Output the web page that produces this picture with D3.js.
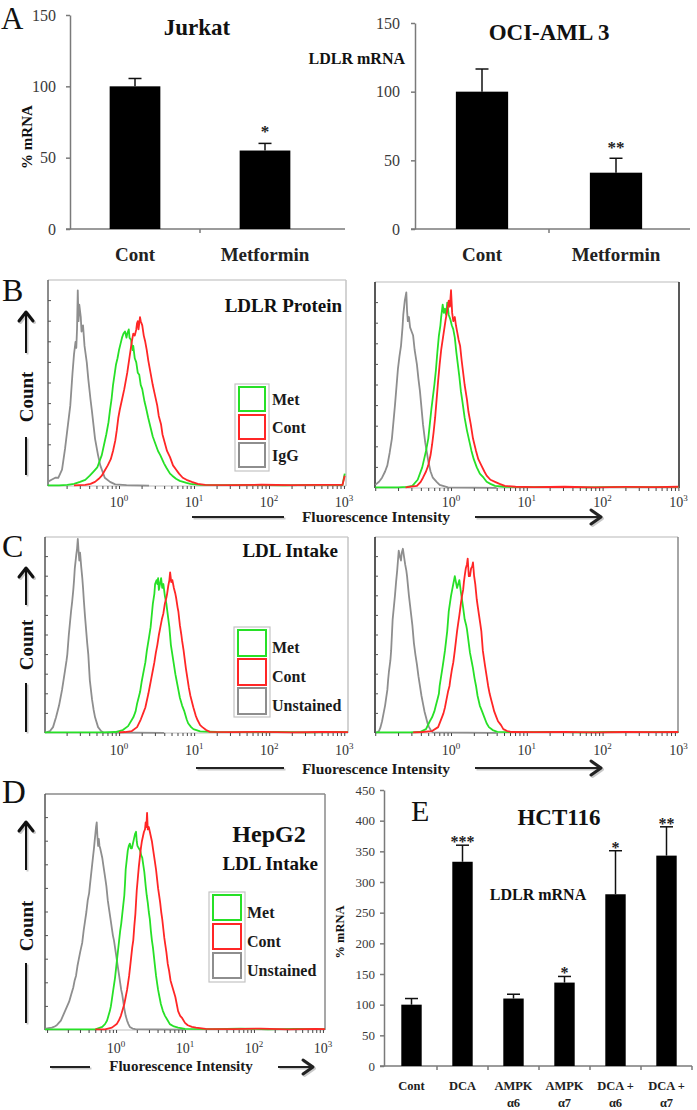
<!DOCTYPE html>
<html><head><meta charset="utf-8">
<script src="https://cdn.jsdelivr.net/npm/d3@7"></script>
<style>body{margin:0;background:#fff}svg{display:block;background:#fff}</style>
</head><body>
<svg id="c" width="697" height="1110"></svg>
<script>
// ---------------- DATA ----------------
const aCategories = ["Cont", "Metformin"];
const jurkatValues = [100, 55];
const jurkatErrTop = [105.5, 60];
const jurkatStars = ["", "*"];
const ociValues = [100, 41];
const ociErrTop = [116.5, 51.5];
const ociStars = ["", "**"];
const aTicks = [0, 50, 100, 150];

const eCategories = [["Cont"], ["DCA"], ["AMPK", "α6"], ["AMPK", "α7"], ["DCA +", "α6"], ["DCA +", "α7"]];
const eValues = [100, 333, 110, 136, 280, 343];
const eErrTop = [110, 360, 117, 146, 351, 390];
const eStars = ["", "***", "", "*", "*", "**"];
const eTicks = [0, 50, 100, 150, 200, 250, 300, 350, 400, 450];

const decadeTicks = [0, 1, 2, 3];           // log10 of 10^0 .. 10^3
const legendB = ["Met", "Cont", "IgG"];
const legendCD = ["Met", "Cont", "Unstained"];

// flow histograms: [log10 fluorescence, count as % of panel height]
const bLeftIgG = [[-0.95,2],[-0.9,3],[-0.85,4],[-0.81,4],[-0.76,8],[-0.72,18],[-0.68,30],[-0.65,39],[-0.62,55],[-0.6,64],[-0.58,70],[-0.57,67],[-0.56,76],[-0.55,95],[-0.54,80],[-0.53,88],[-0.51,82],[-0.5,75],[-0.48,78],[-0.46,68],[-0.43,60],[-0.41,52],[-0.38,42],[-0.36,36],[-0.32,23],[-0.28,15],[-0.25,10],[-0.19,4],[-0.12,2],[-0.05,0.8],[0.1,0.4],[0.4,0.2]];
const bLeftMet = [[-0.95,0.3],[-0.8,0.3],[-0.69,0.5],[-0.6,1],[-0.52,2],[-0.45,3],[-0.39,5],[-0.34,7],[-0.29,9],[-0.26,12],[-0.23,15],[-0.2,20],[-0.17,25],[-0.14,31],[-0.12,37],[-0.1,42],[-0.08,49],[-0.06,54],[-0.04,59],[-0.02,62],[0,66],[0.02,69],[0.04,72],[0.06,74],[0.08,75],[0.1,72],[0.11,74],[0.13,76],[0.14,72],[0.16,71],[0.18,66],[0.19,68],[0.21,62],[0.23,60],[0.25,55],[0.27,54],[0.29,49],[0.31,47],[0.34,41],[0.36,38],[0.39,33],[0.41,30],[0.45,24],[0.48,21],[0.52,17],[0.55,15],[0.6,11],[0.63,9],[0.68,6],[0.71,5],[0.76,3.5],[0.81,2.5],[0.9,1.5],[0.95,1],[1.08,0.5],[1.4,0.4],[1.8,0.5],[2.2,0.3],[2.6,0.5],[2.98,0.4],[3.01,6]];
const bLeftCont = [[-0.6,0.3],[-0.45,0.5],[-0.38,1],[-0.32,2],[-0.27,3.5],[-0.23,5],[-0.19,7.5],[-0.15,10],[-0.11,13],[-0.08,17],[-0.05,22],[-0.03,27],[-0.01,33],[0.01,37],[0.04,42],[0.07,47],[0.09,51],[0.11,55],[0.13,60],[0.15,65],[0.17,70],[0.19,74],[0.21,73],[0.23,76],[0.24,79],[0.25,80],[0.26,76],[0.28,82],[0.29,80],[0.31,78],[0.33,73],[0.35,70],[0.37,66],[0.39,61],[0.41,57],[0.43,53],[0.45,49],[0.48,44],[0.51,39],[0.53,34],[0.56,30],[0.58,25],[0.61,21],[0.64,17],[0.68,14],[0.72,10],[0.76,8],[0.8,6],[0.85,4],[0.9,3],[0.97,2],[1.05,1],[1.15,0.5],[1.5,0.4],[1.9,0.6],[2.3,0.4],[2.7,0.5],[2.98,0.5],[3.01,5]];

const bRightIgG = [[-1.0,1.5],[-0.95,3],[-0.91,5],[-0.87,8],[-0.84,11],[-0.81,17],[-0.78,24],[-0.76,32],[-0.74,40],[-0.72,49],[-0.70,58],[-0.68,64],[-0.66,69],[-0.64,78],[-0.63,84],[-0.61,91],[-0.59,95],[-0.58,86],[-0.57,81],[-0.555,83],[-0.54,78],[-0.52,76],[-0.5,74],[-0.48,67],[-0.45,60],[-0.43,53],[-0.41,47],[-0.39,39],[-0.37,31],[-0.34,22],[-0.3,13],[-0.27,8],[-0.24,5],[-0.19,3],[-0.15,1.5],[-0.04,0.3],[0.3,0.2],[0.6,0.1]];
const bRightMet = [[-1.0,0.3],[-0.7,0.3],[-0.58,0.5],[-0.51,1],[-0.44,4],[-0.38,10],[-0.33,18],[-0.3,24],[-0.28,31],[-0.26,38],[-0.24,44],[-0.22,50],[-0.2,57],[-0.18,66],[-0.16,74],[-0.14,79],[-0.13,83],[-0.12,86],[-0.11,89],[-0.095,85],[-0.08,87],[-0.065,84],[-0.05,90],[-0.03,84],[-0.01,82],[0.01,79],[0.03,77],[0.05,73],[0.07,66],[0.09,60],[0.11,54],[0.13,47],[0.15,42],[0.18,34],[0.21,28],[0.24,23],[0.27,18],[0.30,14],[0.34,10],[0.38,7],[0.43,5],[0.47,3],[0.52,2],[0.58,1],[0.7,0.6],[1.0,0.4],[1.4,0.5],[1.8,0.3],[2.2,0.5],[2.6,0.4],[3.0,0.5]];
const bRightCont = [[-0.6,0.3],[-0.45,1],[-0.4,3],[-0.37,5],[-0.33,8],[-0.3,11],[-0.27,16],[-0.25,21],[-0.23,27],[-0.21,34],[-0.19,43],[-0.17,52],[-0.15,60],[-0.13,67],[-0.11,72],[-0.09,77],[-0.07,82],[-0.05,86],[-0.03,91],[-0.015,88],[0.0,96],[0.015,85],[0.03,81],[0.05,83],[0.065,79],[0.08,76],[0.1,72],[0.12,69],[0.14,62],[0.16,56],[0.18,50],[0.21,43],[0.23,37],[0.26,31],[0.29,24],[0.33,18],[0.36,14],[0.40,11],[0.44,8],[0.47,6],[0.52,4],[0.58,3],[0.64,2],[0.71,1],[0.85,0.6],[1.1,0.4],[1.5,0.6],[1.9,0.3],[2.3,0.5],[2.7,0.4],[3.0,0.6]];

const cLeftUnst = [[-0.99,0.3],[-0.96,0.5],[-0.92,1],[-0.88,3],[-0.84,8],[-0.80,14],[-0.78,18],[-0.76,22],[-0.74,27],[-0.72,32],[-0.70,37],[-0.69,40],[-0.67,50],[-0.655,56],[-0.64,62],[-0.625,67],[-0.61,73],[-0.60,78],[-0.59,84],[-0.57,91],[-0.56,94],[-0.55,99],[-0.54,93],[-0.53,88],[-0.52,92],[-0.505,85],[-0.49,79],[-0.48,74],[-0.47,68],[-0.455,60],[-0.44,53],[-0.425,46],[-0.41,40],[-0.39,27],[-0.36,17],[-0.34,12],[-0.32,8],[-0.28,3],[-0.24,1],[-0.21,0.3],[0.2,0.2],[0.6,0.1]];
const cLeftMet = [[-0.99,0.3],[-0.5,0.3],[-0.19,0.3],[-0.05,0.5],[0.05,1.5],[0.12,3.5],[0.19,8],[0.22,11],[0.24,15],[0.26,18],[0.28,21],[0.3,26],[0.32,30],[0.35,36],[0.37,42],[0.40,49],[0.42,54],[0.43,58],[0.44,62],[0.45,66],[0.47,71],[0.48,76],[0.5,78],[0.51,76],[0.52,79],[0.53,73],[0.545,76],[0.56,79],[0.575,74],[0.59,76],[0.61,70],[0.63,66],[0.64,63],[0.66,57],[0.67,54],[0.69,45],[0.71,40],[0.73,35],[0.75,30],[0.77,26],[0.79,22],[0.81,18],[0.84,14],[0.87,11],[0.9,7],[0.92,5],[0.96,3],[0.99,2],[1.08,0.8],[1.3,0.5],[1.7,0.4],[2.1,0.6],[2.5,0.3],[2.9,0.5],[3.05,0.4]];
const cLeftCont = [[0.0,0.3],[0.08,0.5],[0.17,1],[0.24,3],[0.29,7],[0.32,10],[0.35,13],[0.39,20],[0.41,24],[0.43,28],[0.45,32],[0.47,36],[0.49,41],[0.51,45],[0.53,50],[0.55,54],[0.57,58],[0.59,61],[0.61,66],[0.63,69],[0.64,71],[0.655,75],[0.67,78],[0.68,82],[0.695,77],[0.71,78],[0.725,75],[0.73,74],[0.75,71],[0.76,69],[0.78,64],[0.79,62],[0.81,55],[0.83,50],[0.84,47],[0.86,42],[0.87,39],[0.89,33],[0.91,28],[0.93,23],[0.95,19],[0.99,13],[1.02,9],[1.04,7],[1.08,4],[1.11,3],[1.16,1.5],[1.21,0.6],[1.5,0.4],[1.9,0.6],[2.3,0.3],[2.7,0.5],[3.05,0.4]];

const cRightUnst = [[-0.99,0.3],[-0.97,0.5],[-0.95,1],[-0.93,3],[-0.91,6],[-0.89,10],[-0.87,14],[-0.855,18],[-0.84,22],[-0.83,27],[-0.82,31],[-0.80,37],[-0.79,42],[-0.78,50],[-0.77,58],[-0.755,64],[-0.74,70],[-0.725,77],[-0.71,83],[-0.70,88],[-0.69,93],[-0.675,90],[-0.66,88],[-0.65,92],[-0.635,94],[-0.62,90],[-0.605,86],[-0.59,83],[-0.58,80],[-0.57,76],[-0.555,70],[-0.54,65],[-0.525,60],[-0.51,55],[-0.49,46],[-0.47,40],[-0.45,35],[-0.43,29],[-0.41,24],[-0.39,19],[-0.37,15],[-0.35,11],[-0.33,8],[-0.31,5],[-0.29,3],[-0.26,1],[-0.24,0.3],[0.2,0.2],[0.6,0.1]];
const cRightMet = [[-0.99,0.3],[-0.7,0.3],[-0.54,0.3],[-0.41,0.5],[-0.33,2],[-0.28,6],[-0.25,8],[-0.22,11],[-0.2,14],[-0.18,17],[-0.16,20],[-0.15,24],[-0.13,29],[-0.11,34],[-0.095,38],[-0.08,42],[-0.065,47],[-0.05,52],[-0.04,57],[-0.03,62],[-0.015,66],[0.0,70],[0.015,73],[0.03,76],[0.04,78],[0.05,80],[0.065,77],[0.08,74],[0.095,76],[0.11,78],[0.12,75],[0.13,72],[0.145,68],[0.16,64],[0.17,61],[0.18,58],[0.2,55],[0.21,53],[0.23,47],[0.25,41],[0.27,37],[0.29,33],[0.31,28],[0.33,24],[0.35,19],[0.38,14],[0.41,11],[0.44,8],[0.47,5],[0.5,3],[0.55,1.5],[0.61,0.6],[0.9,0.4],[1.3,0.6],[1.7,0.3],[2.1,0.5],[2.5,0.4],[2.9,0.5],[3.0,0.4]];
const cRightCont = [[-0.5,0.3],[-0.38,0.5],[-0.25,1],[-0.17,3],[-0.12,8],[-0.1,10],[-0.08,13],[-0.06,17],[-0.04,21],[-0.02,24],[-0.01,27],[0.01,32],[0.03,36],[0.05,42],[0.065,47],[0.08,52],[0.095,56],[0.11,60],[0.13,66],[0.145,70],[0.16,73],[0.17,77],[0.18,80],[0.195,84],[0.21,86],[0.22,89],[0.235,80],[0.25,80],[0.265,84],[0.28,85],[0.29,87],[0.305,80],[0.32,76],[0.33,72],[0.34,68],[0.355,64],[0.37,60],[0.385,56],[0.40,52],[0.41,47],[0.42,42],[0.435,38],[0.45,34],[0.47,29],[0.49,24],[0.51,20],[0.53,17],[0.55,14],[0.57,11],[0.6,8],[0.62,6],[0.66,4],[0.69,2],[0.74,1],[0.8,0.5],[1.1,0.4],[1.5,0.6],[1.9,0.3],[2.3,0.5],[2.7,0.4],[3.0,0.5]];

const dUnst = [[-1.03,0.5],[-0.98,0.8],[-0.93,1],[-0.89,1.5],[-0.86,2],[-0.83,3],[-0.80,4],[-0.77,6],[-0.74,8],[-0.71,10],[-0.68,12],[-0.65,15],[-0.62,18],[-0.6,21],[-0.58,23],[-0.56,27],[-0.54,30],[-0.52,33],[-0.49,37],[-0.47,42],[-0.45,46],[-0.43,50],[-0.41,55],[-0.39,58],[-0.38,61],[-0.365,65],[-0.35,69],[-0.335,73],[-0.32,77],[-0.31,80],[-0.30,83],[-0.29,86],[-0.28,88],[-0.27,82],[-0.26,78],[-0.25,81],[-0.24,78],[-0.23,77],[-0.215,75],[-0.2,73],[-0.185,70],[-0.17,67],[-0.155,64],[-0.14,61],[-0.13,58],[-0.12,55],[-0.105,52],[-0.09,49],[-0.075,46],[-0.06,43],[-0.045,40],[-0.03,38],[-0.015,35],[0.0,32],[0.015,29],[0.03,26],[0.045,23],[0.06,20],[0.075,17],[0.09,15],[0.105,12],[0.12,9],[0.14,6],[0.16,4],[0.18,2.5],[0.2,1.3],[0.24,0.6],[0.28,0.4],[0.6,0.3],[1.0,0.2]];
const dMet = [[-1.03,0.3],[-0.6,0.3],[-0.3,0.3],[-0.2,1.3],[-0.16,2.5],[-0.13,4],[-0.11,6],[-0.09,8],[-0.075,10],[-0.06,13],[-0.045,16],[-0.03,19],[-0.015,22],[0.0,26],[0.015,30],[0.03,34],[0.045,38],[0.06,42],[0.075,45],[0.09,49],[0.105,53],[0.12,57],[0.13,62],[0.14,68],[0.155,72],[0.17,76],[0.185,78],[0.2,79],[0.215,77],[0.23,77],[0.245,79],[0.26,81],[0.275,83],[0.29,84],[0.3,80],[0.31,78],[0.33,77],[0.35,76],[0.365,74],[0.38,73],[0.395,70],[0.41,67],[0.42,64],[0.43,61],[0.445,57],[0.46,54],[0.475,50],[0.49,47],[0.505,42],[0.52,38],[0.535,35],[0.55,31],[0.565,27],[0.58,23],[0.595,20],[0.61,17],[0.63,14],[0.65,11],[0.68,8],[0.71,6],[0.75,4],[0.78,2.5],[0.84,1.5],[0.9,1],[1.0,0.5],[1.4,0.4],[1.8,0.6],[2.2,0.3],[2.6,0.5],[3.03,0.4]];
const dCont = [[-0.3,0.3],[-0.16,0.3],[-0.06,1],[0.01,2.5],[0.04,4],[0.07,6],[0.1,9],[0.12,11],[0.14,14],[0.16,17],[0.175,20],[0.19,23],[0.205,27],[0.22,31],[0.235,35],[0.25,38],[0.265,44],[0.28,49],[0.29,54],[0.3,59],[0.315,64],[0.33,69],[0.345,73],[0.36,77],[0.375,80],[0.39,82],[0.405,84],[0.42,85],[0.43,88],[0.44,86],[0.45,92],[0.46,85],[0.475,86],[0.49,84],[0.505,82],[0.52,80],[0.535,77],[0.55,74],[0.565,71],[0.58,68],[0.595,64],[0.61,60],[0.625,57],[0.64,54],[0.655,50],[0.67,47],[0.685,43],[0.7,39],[0.715,36],[0.73,33],[0.75,28],[0.77,25],[0.79,21],[0.81,19],[0.84,16],[0.86,14],[0.88,11],[0.9,8],[0.93,6],[0.96,5],[1.0,3],[1.04,2],[1.1,1.3],[1.16,1],[1.3,0.5],[1.7,0.4],[2.1,0.6],[2.5,0.3],[2.9,0.5],[3.03,0.4]];

// ---------------- DRAWING ----------------
const SERIF = '"Liberation Serif","Times New Roman",Times,serif';
const GREEN = "#27e027", RED = "#ff2626", GRAY = "#8e8e8e";
const svg = d3.select("#c").attr("font-family", SERIF);

function txt(t, x, y, o = {}) {
  const s = svg.append("text").attr("x", x).attr("y", y).text(t)
    .attr("font-size", o.size || 16).attr("font-weight", o.bold ? "bold" : "normal")
    .attr("fill", o.fill || "#111").attr("text-anchor", o.anchor || "start");
  if (o.rotate) s.attr("transform", `rotate(${o.rotate},${x},${y})`);
  if (o.dy) s.attr("dy", o.dy);
  return s;
}

function barChart(o) {
  const y = d3.scaleLinear().domain([0, o.ymax]).range([o.yBase, o.yTop]);
  const x = d3.scaleBand().domain(o.cats.map((c, i) => i)).range(o.band)
    .paddingInner(o.pad).paddingOuter(o.pad / 2);
  const ax = d3.axisLeft(y).tickValues(o.ticks).tickSize(4).tickSizeOuter(0).tickPadding(o.tickPad);
  const g = svg.append("g").attr("transform", `translate(${o.axX},0)`).call(ax);
  g.select(".domain").attr("stroke", "#7a7a7a").attr("stroke-width", 1.5);
  g.selectAll(".tick line").attr("stroke", "#7a7a7a").attr("stroke-width", 1.5);
  g.selectAll(".tick text").attr("font-family", SERIF).attr("font-size", o.tickSize).attr("fill", "#3a3a3a");
  svg.append("line").attr("x1", o.axX - 4).attr("x2", o.xEnd).attr("y1", y(0)).attr("y2", y(0))
    .attr("stroke", "#7a7a7a").attr("stroke-width", 1.5);
  const bounds = o.cats.map((c, i) => x(i) + x.bandwidth() / 2 - x.step() / 2);
  if (o.lastTick) bounds.push(x(o.cats.length - 1) + x.bandwidth() / 2 + x.step() / 2);
  bounds.slice(1).forEach(b => svg.append("line").attr("x1", b).attr("x2", b)
    .attr("y1", y(0)).attr("y2", y(0) + 4).attr("stroke", "#7a7a7a").attr("stroke-width", 1.5));
  o.values.forEach((v, i) => {
    const cx = x(i) + x.bandwidth() / 2;
    svg.append("line").attr("x1", cx).attr("x2", cx).attr("y1", y(v)).attr("y2", y(o.err[i]))
      .attr("stroke", "#111").attr("stroke-width", 1.5);
    svg.append("line").attr("x1", cx - o.cap / 2).attr("x2", cx + o.cap / 2).attr("y1", y(o.err[i])).attr("y2", y(o.err[i]))
      .attr("stroke", "#111").attr("stroke-width", 1.5);
    svg.append("rect").attr("x", x(i)).attr("width", x.bandwidth()).attr("y", y(v))
      .attr("height", y(0) - y(v)).attr("fill", "#000");
    if (o.stars[i]) txt(o.stars[i], cx, y(o.err[i]) + o.starOff, { size: o.starSize, bold: true, anchor: "middle", fill: "#222" });
    const lab = o.cats[i];
    (Array.isArray(lab) ? lab : [lab]).forEach((l, k) =>
      txt(l, cx, o.labY + k * o.labGap, { size: o.labSize, bold: true, anchor: "middle", fill: "#222" }));
  });
}

function flowPanel(o) {
  const x = d3.scaleLog().domain([Math.pow(10, o.lo), Math.pow(10, o.hi)]).range([o.x0, o.x1]);
  const y = d3.scaleLinear().domain([0, 100]).range([o.base, o.top]);
  const g = svg.append("g");
  g.append("line").attr("x1", o.x0).attr("x2", o.x1).attr("y1", o.top).attr("y2", o.top).attr("stroke", o.topC).attr("stroke-width", 1.5);
  g.append("line").attr("x1", o.x1).attr("x2", o.x1).attr("y1", o.top).attr("y2", o.base).attr("stroke", o.rightC).attr("stroke-width", 1.5);
  g.append("line").attr("x1", o.x0).attr("x2", o.x1).attr("y1", o.base).attr("y2", o.base).attr("stroke", "#bdbdbd").attr("stroke-width", 1);
  g.append("line").attr("x1", o.x0).attr("x2", o.x0).attr("y1", o.top).attr("y2", o.base).attr("stroke", o.leftC).attr("stroke-width", 1.5);
  y.ticks(10).slice(1, -1).forEach(t => g.append("line").attr("x1", o.x0).attr("x2", o.x0 + 3)
    .attr("y1", y(t)).attr("y2", y(t)).attr("stroke", "#555").attr("stroke-width", 1));
  const minor = x.ticks().filter(v => v >= x.domain()[0] && v <= x.domain()[1]);
  const axis = d3.axisBottom(x).tickValues(minor).tickSize(3).tickFormat("");
  const ag = svg.append("g").attr("transform", `translate(0,${o.base})`).call(axis);
  ag.select(".domain").remove();
  ag.selectAll(".tick line").attr("stroke", "#444").attr("stroke-width", 1);
  const line = d3.line().x(d => x(Math.pow(10, d[0]))).y(d => y(d[1]));
  o.series.forEach(s => g.append("path").datum(s.data).attr("d", line).attr("fill", "none")
    .attr("stroke", s.color).attr("stroke-width", 1.8).attr("stroke-linejoin", "round"));
  decadeTicks.forEach(k => {
    const t = svg.append("text").attr("x", x(Math.pow(10, k))).attr("y", o.labY)
      .attr("text-anchor", "middle").attr("font-size", 14).attr("fill", "#333");
    t.append("tspan").text("10");
    t.append("tspan").text(k).attr("font-size", 9).attr("dy", -6);
  });
  if (o.legend) {
    const L = o.legend;
    svg.append("rect").attr("x", L.x - 4).attr("y", L.y - 3).attr("width", L.w + 8)
      .attr("height", L.step * 3 + 3).attr("fill", "none").attr("stroke", "#c4c4c4").attr("stroke-width", 1.2);
    L.labels.forEach((lab, i) => {
      svg.append("rect").attr("x", L.x).attr("y", L.y + i * L.step).attr("width", L.w).attr("height", L.h)
        .attr("fill", "#fff").attr("stroke", [GREEN, RED, GRAY][i]).attr("stroke-width", 2);
      txt(lab, L.tx, L.y + i * L.step + L.tdy, { size: 16, bold: true, fill: "#1a1a1a" });
    });
  }
}

function countLabel(cx, tip, shaftEnd, textC, l0, l1) {
  [[1.5, "#c9c9c9"], [0, "#111"]].forEach(([off, col]) => {
    svg.append("line").attr("x1", cx + off).attr("x2", cx + off).attr("y1", tip + off + 1).attr("y2", shaftEnd + off).attr("stroke", col).attr("stroke-width", 2);
    svg.append("path").attr("d", `M${cx - 7 + off},${tip + 9 + off}L${cx + off},${tip + off}L${cx + 7 + off},${tip + 9 + off}`)
      .attr("fill", "none").attr("stroke", col).attr("stroke-width", 3).attr("stroke-linecap", "round").attr("stroke-linejoin", "round");
    svg.append("line").attr("x1", cx + off).attr("x2", cx + off).attr("y1", l0 + off).attr("y2", l1 + off).attr("stroke", col).attr("stroke-width", 2);
  });
  txt("Count", cx, textC, { size: 19, bold: true, anchor: "middle", rotate: -90, dy: "0.35em", fill: "#111" });
}

function fluoRow(lx0, lx1, tx, ax0, ax1, y, ty, size) {
  [[1.5, "#c9c9c9"], [0, "#222"]].forEach(([off, col]) => {
    svg.append("line").attr("x1", lx0 + off).attr("x2", lx1 + off).attr("y1", y + off).attr("y2", y + off).attr("stroke", col).attr("stroke-width", 2);
    svg.append("line").attr("x1", ax0 + off).attr("x2", ax1 - 1 + off).attr("y1", y + off).attr("y2", y + off).attr("stroke", col).attr("stroke-width", 2);
    svg.append("path").attr("d", `M${ax1 - 10 + off},${y - 7 + off}L${ax1 + off},${y + off}L${ax1 - 10 + off},${y + 7 + off}`)
      .attr("fill", "none").attr("stroke", col).attr("stroke-width", 3).attr("stroke-linecap", "round").attr("stroke-linejoin", "round");
  });
  txt("Fluorescence Intensity", tx, ty, { size: size, bold: true, anchor: "middle", fill: "#1a1a1a" });
}

// ---- Panel A ----
txt("A", 1, 29, { size: 31, fill: "#111" });
barChart({ cats: aCategories, values: jurkatValues, err: jurkatErrTop, stars: jurkatStars, ymax: 150, yBase: 229, yTop: 15,
  band: [70, 330], pad: 0.61, ticks: aTicks, axX: 70, xEnd: 345, tickPad: 10, tickSize: 16, cap: 13,
  starOff: -6, starSize: 17, labY: 261, labGap: 0, labSize: 19 });
barChart({ cats: aCategories, values: ociValues, err: ociErrTop, stars: ociStars, ymax: 150, yBase: 229, yTop: 23,
  band: [415, 683], pad: 0.61, ticks: aTicks, axX: 415, xEnd: 690, tickPad: 11, tickSize: 16, cap: 13,
  starOff: -5, starSize: 17, labY: 261, labGap: 0, labSize: 19 });
txt("Jurkat", 197, 35, { size: 23, bold: true, anchor: "middle" });
txt("OCI-AML 3", 549, 40, { size: 23, bold: true, anchor: "middle" });
txt("LDLR mRNA", 405, 64, { size: 16, bold: true, anchor: "end" });
txt("% mRNA", 27, 137, { size: 15, bold: true, anchor: "middle", rotate: -90, dy: "0.35em" });

// ---- Panel B ----
txt("B", 2, 301, { size: 32, fill: "#111" });
flowPanel({ x0: 48, x1: 346, lo: -0.947, hi: 3.027, top: 280, base: 486, labY: 507,
  topC: "#cfcfcf", rightC: "#c4c4c4", leftC: "#666",
  series: [{ data: bLeftIgG, color: GRAY }, { data: bLeftMet, color: GREEN }, { data: bLeftCont, color: RED }],
  legend: { x: 239, y: 387, w: 26, h: 24, step: 28, labels: legendB, tx: 272, tdy: 18 } });
flowPanel({ x0: 375, x1: 679, lo: -1.003, hi: 3.008, top: 282, base: 488, labY: 507,
  topC: "#d2d2d2", rightC: "#222", leftC: "#222",
  series: [{ data: bRightIgG, color: GRAY }, { data: bRightMet, color: GREEN }, { data: bRightCont, color: RED }] });
txt("LDLR Protein", 342, 312, { size: 19, bold: true, anchor: "end" });
countLabel(26, 312, 353, 397, 437, 475);
fluoRow(192, 284, 376, 475, 601, 517, 522, 15.5);

// ---- Panel C ----
txt("C", 2, 557, { size: 32, fill: "#111" });
flowPanel({ x0: 45, x1: 348, lo: -0.987, hi: 3.05, top: 537, base: 733, labY: 755,
  topC: "#cfcfcf", rightC: "#c4c4c4", leftC: "#555",
  series: [{ data: cLeftUnst, color: GRAY }, { data: cLeftMet, color: GREEN }, { data: cLeftCont, color: RED }],
  legend: { x: 238, y: 630, w: 28, h: 26, step: 29, labels: legendCD, tx: 272, tdy: 23 } });
flowPanel({ x0: 375, x1: 678, lo: -1.003, hi: 2.995, top: 537, base: 733, labY: 755,
  topC: "#cfcfcf", rightC: "#888", leftC: "#222",
  series: [{ data: cRightUnst, color: GRAY }, { data: cRightMet, color: GREEN }, { data: cRightCont, color: RED }] });
txt("LDL Intake", 338, 557, { size: 19, bold: true, anchor: "end" });
countLabel(26, 568, 605, 645, 683, 732);
fluoRow(196, 284, 376, 475, 601, 768, 774, 15.5);

// ---- Panel D ----
txt("D", 2, 803, { size: 33, fill: "#111" });
flowPanel({ x0: 45, x1: 325, lo: -1.03, hi: 3.03, top: 794, base: 1030, labY: 1053,
  topC: "#8a8a8a", rightC: "#8a8a8a", leftC: "#555",
  series: [{ data: dUnst, color: GRAY }, { data: dMet, color: GREEN }, { data: dCont, color: RED }],
  legend: { x: 213, y: 895, w: 28, h: 25, step: 29, labels: legendCD, tx: 247, tdy: 23 } });
txt("HepG2", 269, 842, { size: 24, bold: true, anchor: "middle" });
txt("LDL Intake", 318, 870, { size: 19, bold: true, anchor: "end" });
countLabel(26, 822, 870, 926, 963, 1023);
fluoRow(50, 90, 181, 278, 313, 1067, 1071, 15);

// ---- Panel E ----
barChart({ cats: eCategories, values: eValues, err: eErrTop, stars: eStars, ymax: 450, yBase: 1066, yTop: 790,
  band: [386, 692], pad: 0.6, ticks: eTicks, axX: 384, xEnd: 692, tickPad: 5, tickSize: 13, cap: 13,
  starOff: 2, starSize: 16, labY: 1090, labGap: 17, labSize: 12.5, lastTick: true });
txt("E", 411, 821, { size: 30, fill: "#111" });
txt("HCT116", 559, 825, { size: 23, bold: true, anchor: "middle" });
txt("LDLR mRNA", 538, 900, { size: 16, bold: true, anchor: "middle" });
txt("% mRNA", 340, 932, { size: 12.5, bold: true, anchor: "middle", rotate: -90, dy: "0.35em" });
</script>
</body></html>
